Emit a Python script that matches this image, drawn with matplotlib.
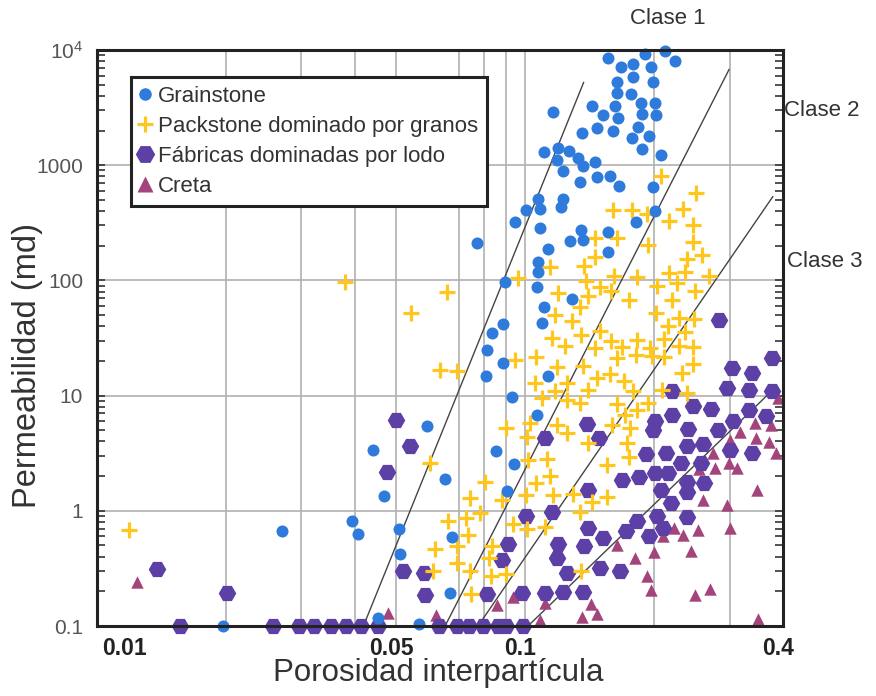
import matplotlib
matplotlib.use('Agg')
import matplotlib.pyplot as plt
import matplotlib.transforms as mtransforms
from matplotlib.lines import Line2D
from matplotlib.ticker import LogLocator, NullFormatter, NullLocator

plt.rcParams['font.family'] = ['Liberation Sans', 'DejaVu Sans']

# Grainstone (circles)
grain_phi = [0.156, 0.190, 0.212, 0.224, 0.1675, 0.179, 0.197, 0.179, 0.164, 0.1985,
             0.1636, 0.1765, 0.1436, 0.1622, 0.1864, 0.2012, 0.1516, 0.1648, 0.1872, 0.2019,
             0.1473, 0.160, 0.1832, 0.1775, 0.1948, 0.1874, 0.2075, 0.1456, 0.147, 0.1578,
             0.1655, 0.1985, 0.1355, 0.1159, 0.1105, 0.1191, 0.1264, 0.1189, 0.1328, 0.1366,
             0.1226, 0.1343, 0.1073, 0.1226, 0.1003, 0.1083, 0.1212, 0.0947, 0.108, 0.135,
             0.1274, 0.1362, 0.1563, 0.1563, 0.1815, 0.2014, 0.0771, 0.1132, 0.1073, 0.1071,
             0.0897, 0.1066, 0.1285, 0.1107, 0.0889, 0.0835, 0.1097, 0.0815, 0.0889, 0.1133,
             0.0808, 0.093, 0.1068, 0.0589, 0.0854, 0.0942, 0.065, 0.0908, 0.0674, 0.0506,
             0.0509, 0.0667, 0.0565, 0.0442, 0.0467, 0.0271, 0.0393, 0.0406, 0.0197, 0.0452]
grain_k = [8560, 9270, 9900, 8060, 7190, 7530, 7090, 5830, 5250, 5290,
           4210, 4130, 3250, 3250, 3500, 3500, 2750, 2570, 2790, 2710,
           2110, 1990, 2140, 1730, 1780, 1370, 1230, 1060, 791, 801,
           665, 641, 1920, 2890, 1290, 1410, 1330, 1100, 1160, 978,
           885, 709, 506, 513, 405, 414, 433, 324, 285, 276,
           219, 224, 261, 178, 320, 403, 210, 189, 145, 118,
           96.8, 86.9, 68.9, 58.7, 41.8, 34.9, 42.7, 25.1, 19.2, 14.9,
           14.9, 9.8, 6.8, 5.5, 3.3, 2.54, 1.89, 1.5, 0.597, 0.70,
           0.42, 0.192, 0.104, 3.38, 1.35, 0.67, 0.82, 0.63, 0.1, 0.117]

# Packstone dominado por granos (plus)
pack_phi = [0.2075, 0.2505, 0.160, 0.1773, 0.193, 0.2333, 0.2165, 0.2465, 0.1456, 0.1636,
            0.1938, 0.2459, 0.1456, 0.1371, 0.1145, 0.2381, 0.2581, 0.2166, 0.2361, 0.2694,
            0.0962, 0.1616, 0.182, 0.1389, 0.1495, 0.1587, 0.1195, 0.1405, 0.1343, 0.1752,
            0.203, 0.2258, 0.2486, 0.2199, 0.2019, 0.1174, 0.1287, 0.1492, 0.1351, 0.2286,
            0.2482, 0.215, 0.2361, 0.1156, 0.124, 0.1456, 0.1587, 0.1679, 0.1822, 0.1959,
            0.211, 0.2286, 0.2471, 0.1058, 0.0947, 0.0633, 0.0692, 0.1184, 0.1364, 0.1639,
            0.1818, 0.1974, 0.211, 0.2471, 0.232, 0.1578, 0.1699, 0.1472, 0.1251, 0.1055,
            0.1399, 0.1171, 0.1097, 0.1251, 0.1341, 0.1639, 0.179, 0.1938, 0.2092, 0.2383,
            0.1829, 0.1712, 0.1592, 0.1755, 0.0904, 0.1025, 0.1184, 0.1251, 0.1008, 0.1405,
            0.1726, 0.175, 0.1551, 0.0598, 0.1014, 0.1124, 0.0805, 0.1058, 0.114, 0.0743,
            0.0882, 0.1006, 0.1163, 0.1296, 0.143, 0.1553, 0.1343, 0.0662, 0.0726, 0.0785,
            0.0934, 0.1011, 0.1111, 0.0734, 0.0617, 0.0692, 0.0836, 0.0823, 0.0693, 0.0609,
            0.0743, 0.0833, 0.0904, 0.135, 0.0749, 0.054, 0.0655, 0.0379, 0.0119]
pack_k = [801, 574, 405, 405, 375, 414, 326, 303, 234, 234,
          204, 215, 161, 134, 130, 152, 166, 117, 119, 109,
          104, 110, 107, 99.4, 87.3, 81, 77, 72.6, 58.5, 68,
          89.9, 94.9, 80.3, 68, 52.4, 49.9, 44.5, 36.5, 33.7, 47.4,
          46.2, 40.1, 35.5, 31.9, 26.9, 25.9, 29.9, 26.3, 30.5, 25.9,
          30.7, 26.7, 26.3, 21.6, 20.3, 16.8, 16.2, 17.7, 18.2, 21.2,
          22.4, 21.9, 21.6, 18.9, 15.7, 15.4, 13.5, 14.2, 12.9, 12.8,
          11.2, 10.9, 9.6, 9.25, 8.6, 8.5, 10.9, 8.7, 11.2, 10.5,
          7.5, 6.8, 5.6, 5.2, 5.25, 5.8, 5.6, 4.7, 4.4, 3.9,
          3.9, 2.96, 2.5, 2.6, 2.77, 2.82, 1.78, 1.75, 2.0, 1.29,
          1.24, 1.36, 1.37, 1.40, 1.20, 1.32, 0.98, 0.82, 0.86, 0.95,
          0.77, 0.69, 0.72, 0.62, 0.47, 0.49, 0.49, 0.39, 0.35, 0.30,
          0.30, 0.27, 0.285, 0.30, 0.19, 52.4, 79.8, 97.4, 0.68]

# Fabricas dominadas por lodo (hexagons)
mud_phi = [0.050, 0.0537, 0.0476, 0.0517, 0.058, 0.0583, 0.0138, 0.0201,
           0.0156, 0.0258, 0.0297, 0.0322, 0.0352, 0.0381, 0.0414, 0.0454,
           0.063, 0.0694, 0.0741, 0.0798, 0.0862, 0.0902, 0.099,
           0.1111, 0.1397, 0.1491, 0.1399, 0.1006, 0.1153, 0.1402, 0.1522, 0.1371, 0.1195,
           0.1184, 0.0914, 0.0882, 0.1251, 0.1495, 0.1666, 0.0816, 0.0985, 0.1111, 0.1226,
           0.1362, 0.1686, 0.1848, 0.1914, 0.2135, 0.2388, 0.2604, 0.300, 0.3378, 0.2009,
           0.2155, 0.2306, 0.2569, 0.2078, 0.2383, 0.2383, 0.2611, 0.2188, 0.1822, 0.1716,
           0.1943, 0.2026, 0.21, 0.2383, 0.2837, 0.3776, 0.3044, 0.3378, 0.296, 0.3325,
           0.3776, 0.2199, 0.2465, 0.2722, 0.3331, 0.3646, 0.3049, 0.2199, 0.2009, 0.1992,
           0.2394, 0.2819]
mud_k = [6.2, 3.63, 2.19, 0.303, 0.287, 0.186, 0.313, 0.192,
         0.1, 0.1, 0.1, 0.1, 0.1, 0.1, 0.1, 0.1,
         0.1, 0.1, 0.1, 0.1, 0.1, 0.1, 0.1,
         4.3, 5.7, 4.3, 1.52, 0.91, 0.98, 0.715, 0.58, 0.49, 0.52,
         0.39, 0.52, 0.375, 0.287, 0.317, 0.303, 0.191, 0.195, 0.192, 0.197,
         0.199, 1.86, 1.97, 3.12, 3.20, 3.63, 3.78, 3.40, 3.20, 2.13,
         2.13, 2.59, 2.59, 1.52, 1.79, 1.45, 1.75, 1.16, 0.81, 0.67,
         0.61, 0.90, 0.71, 0.89, 45.5, 21.2, 17.3, 15.8, 11.6, 11.2,
         10.9, 10.9, 8.2, 7.7, 7.5, 6.6, 6.0, 6.8, 6.0, 5.05,
         5.1, 5.0]

# Creta (triangles)
chalk_phi = [0.0124, 0.0479, 0.0619, 0.0858, 0.0934, 0.1111, 0.1083, 0.1355, 0.1422, 0.1472,
             0.1636, 0.1806, 0.193, 0.197, 0.1996, 0.21, 0.2222, 0.2336, 0.244, 0.2527,
             0.2494, 0.2707, 0.26, 0.2954, 0.30, 0.3475, 0.35, 0.2542, 0.2771, 0.2985,
             0.3117, 0.2748, 0.3468, 0.3706, 0.3859, 0.3008, 0.3175, 0.3902, 0.345, 0.374]
chalk_k = [0.243, 0.129, 0.125, 0.152, 0.18, 0.159, 0.113, 0.12, 0.155, 0.127,
           0.506, 0.391, 0.27, 0.205, 0.435, 0.60, 0.71, 0.62, 0.45, 0.68,
           0.186, 0.21, 1.24, 1.13, 0.71, 1.52, 0.115, 2.31, 2.34, 2.59,
           2.34, 3.17, 4.3, 3.93, 3.17, 4.13, 4.8, 9.47, 5.8, 5.6]

# class boundary lines (end points)
bound_phi = [(0.0419, 0.1369), (0.0650, 0.2993), (0.0776, 0.3786), (0.1015, 0.3786)]
bound_k = [(0.1, 5220), (0.1, 6770), (0.1, 533), (0.1, 11.2)]

grid_phi = [0.02, 0.03, 0.04, 0.05, 0.07, 0.08, 0.09, 0.1, 0.2, 0.3]
grid_k = [1, 10, 100, 1000]

x_ticks = [0.01, 0.05, 0.1, 0.4]
x_labels = ['0.01', '0.05', '0.1', '0.4']
y_ticks = [0.1, 1, 10, 100, 1000, 10000]
y_labels = ['0.1', '1', '10', '100', '1000', r'$\mathregular{10^4}$']

legend_labels = ['Grainstone', 'Packstone dominado por granos',
                 'Fábricas dominadas por lodo', 'Creta']

C_BLUE = '#2f7bdb'
C_YEL = '#ffc61e'
C_PURP = '#5d40a6'
C_TRI = '#a4447c'

fig = plt.figure(figsize=(8.76, 6.96), dpi=100)
ax = fig.add_axes([97 / 876, 70 / 696, 686 / 876, 576 / 696])
ax.set_xscale('log')
ax.set_yscale('log')
ax.set_xlim(0.01, 0.4)
ax.set_ylim(0.1, 1e4)

for g in grid_phi:
    ax.axvline(g, color='#b0b0b0', lw=1.2, zorder=0)
for g in grid_k:
    ax.axhline(g, color='#b0b0b0', lw=1.2, zorder=0)

for px, pk in zip(bound_phi, bound_k):
    ax.plot(px, pk, color='#444444', lw=1.0, zorder=1)

ax.scatter(chalk_phi, chalk_k, marker='^', s=80, c=C_TRI, linewidths=0, zorder=3, clip_on=False)
ax.scatter(mud_phi, mud_k, marker='H', s=160, c=C_PURP, linewidths=0, zorder=4, clip_on=False)
ax.scatter(pack_phi, pack_k, marker='+', s=120, c=C_YEL, linewidths=2.3, zorder=5, clip_on=False)
ax.scatter(grain_phi, grain_k, marker='o', s=75, c=C_BLUE, linewidths=0, zorder=6, clip_on=False)

for sp in ax.spines.values():
    sp.set_linewidth(2.2)
    sp.set_color('#222222')
    sp.set_zorder(7)

ax.set_xticks(x_ticks)
ax.set_xticklabels(x_labels, fontsize=16.5, fontweight='bold', color='#222222')
ax.xaxis.set_minor_locator(NullLocator())
ax.tick_params(axis='x', which='both', length=0, pad=8)

ax.set_yticks(y_ticks)
ax.set_yticklabels(y_labels, fontsize=15, color='#555555')
ax.yaxis.set_minor_locator(LogLocator(base=10, subs=range(2, 10)))
ax.yaxis.set_minor_formatter(NullFormatter())
ax.tick_params(axis='y', which='both', direction='in', left=True, right=True,
               length=6, width=1.2, color='#333333', pad=10)

# nudge the x tick labels the way the original places them
for i, lab in enumerate(ax.get_xticklabels()):
    dx = -5
    if i == 0:
        lab.set_horizontalalignment('left')
        dx = 5
    lab.set_transform(lab.get_transform() +
                      mtransforms.ScaledTranslation(dx / 100, 0, fig.dpi_scale_trans))

fig.text(438 / 876, 1 - 673 / 696, 'Porosidad interpartícula', fontsize=22.5,
         color='#333333', ha='center', va='center')
fig.text(28 / 876, 1 - 366 / 696, 'Permeabilidad (md)', fontsize=23.5,
         color='#333333', ha='center', va='center', rotation=90)

handles = [
    Line2D([], [], ls='none', marker='o', ms=9, mfc=C_BLUE, mec='none'),
    Line2D([], [], ls='none', marker='+', ms=12, mec=C_YEL, mew=2.3),
    Line2D([], [], ls='none', marker='H', ms=14, mfc=C_PURP, mec='none'),
    Line2D([], [], ls='none', marker='^', ms=11, mfc=C_TRI, mec='none'),
]
leg = ax.legend(handles, legend_labels, loc='upper left',
                bbox_to_anchor=(0.0496, 0.953), borderaxespad=0, frameon=True,
                fancybox=False, framealpha=1, edgecolor='#222222', fontsize=16,
                handletextpad=0.3, handlelength=0.5, labelspacing=0.4,
                borderpad=0.4, numpoints=1)
leg.get_frame().set_linewidth(2.2)
leg.set_zorder(8)
for t in leg.get_texts():
    t.set_color('#333333')

fig.text(668 / 876, 1 - 18 / 696, 'Clase 1', fontsize=16, color='#333333', ha='center', va='center')
fig.text(822 / 876, 1 - 110 / 696, 'Clase 2', fontsize=16, color='#333333', ha='center', va='center')
fig.text(825 / 876, 1 - 262 / 696, 'Clase 3', fontsize=16, color='#333333', ha='center', va='center')

fig.savefig('out.png', dpi=100)
